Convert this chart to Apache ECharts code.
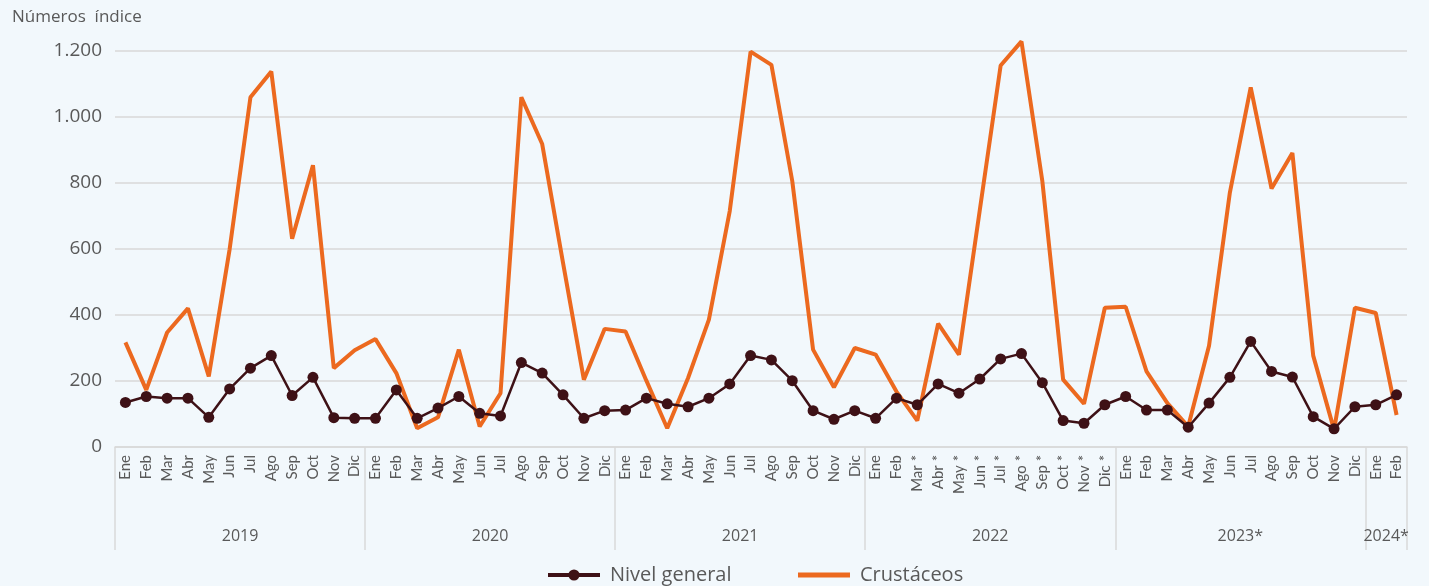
<!DOCTYPE html>
<html>
<head>
<meta charset="utf-8">
<script src="https://cdn.jsdelivr.net/npm/echarts@6/dist/echarts.min.js"></script>
<style>
  html, body { margin: 0; padding: 0; background: #F2F8FC; }
  #chart { width: 1429px; height: 586px; }
</style>
</head>
<body>
<div id="chart"></div>
<script>
// month labels (one per point)
const months = [
  "Ene","Feb","Mar","Abr","May","Jun","Jul","Ago","Sep","Oct","Nov","Dic",
  "Ene","Feb","Mar","Abr","May","Jun","Jul","Ago","Sep","Oct","Nov","Dic",
  "Ene","Feb","Mar","Abr","May","Jun","Jul","Ago","Sep","Oct","Nov","Dic",
  "Ene","Feb","Mar *","Abr *","May *","Jun *","Jul *","Ago *","Sep *","Oct *","Nov *","Dic *",
  "Ene","Feb","Mar","Abr","May","Jun","Jul","Ago","Sep","Oct","Nov","Dic",
  "Ene","Feb"
];
const years = ["2019", "2020", "2021", "2022", "2023*", "2024*"];
const monthsPerYear = [12, 12, 12, 12, 12, 2];

const nivelGeneral = [
  135, 153, 148, 148, 90, 176, 239, 277, 156, 211, 89, 87,
  87, 173, 87, 118, 153, 102, 94, 256, 224, 158, 87, 110,
  112, 148, 131, 122, 148, 191, 277, 264, 201, 110, 84, 110,
  87, 148, 128, 191, 163, 206, 267, 283, 195, 80, 72, 128,
  153, 112, 112, 60, 133, 211, 320, 229, 212, 92, 55, 122,
  128, 158
];
const crustaceos = [
  317, 173, 347, 420, 214, 599, 1060, 1138, 631, 854, 239, 293,
  327, 224, 57, 90, 295, 62, 163, 1060, 918, 558, 204, 358,
  350, 201, 57, 209, 386, 715, 1198, 1158, 806, 295, 181, 300,
  280, 168, 80, 374, 280, 718, 1156, 1229, 806, 204, 131, 422,
  425, 229, 133, 62, 307, 771, 1090, 783, 891, 277, 52, 422,
  406, 97
];

// year row: half-month slots so year centres and borders fall on points
const halfSlots = [];
const yearCentre = {};
const yearBorder = { 0: true };
let pos = 0;
years.forEach((y, i) => {
  yearCentre[pos + monthsPerYear[i]] = y;
  pos += monthsPerYear[i] * 2;
  yearBorder[pos] = true;
});
for (let k = 0; k <= pos; k++) halfSlots.push(yearCentre[k] || "");

const chart = echarts.init(document.getElementById("chart"));
const font = "'Open Sans', Lato, sans-serif";
const monthFont = "Lato, 'Open Sans', sans-serif";
const grey = "#595959";
const lineGrey = "#D9D9D9";

chart.setOption({
  backgroundColor: "#F2F8FC",
  textStyle: { fontFamily: font },
  title: {
    text: "Números  índice",
    left: 7,
    top: 4,
    textStyle: { fontSize: 17, fontWeight: "normal", color: grey, fontFamily: font }
  },
  legend: {
    left: 541,
    top: 560,
    itemWidth: 52,
    itemHeight: 14,
    itemGap: 64,
    textStyle: { fontSize: 20, color: grey, fontFamily: font, padding: [0, 0, 0, 5] },
    data: [
      { name: "Nivel general", lineStyle: { width: 4 } },
      { name: "Crustáceos", itemStyle: { opacity: 0 }, lineStyle: { width: 5 } }
    ]
  },
  grid: { left: 115, right: 22, top: 51, bottom: 139 },
  xAxis: [
    {
      type: "category",
      data: months,
      boundaryGap: true,
      axisLine: { lineStyle: { color: lineGrey, width: 1.5 } },
      axisTick: { show: false },
      axisLabel: { rotate: 90, interval: 0, margin: 8, fontSize: 15, color: grey, fontFamily: monthFont }
    },
    {
      type: "category",
      data: halfSlots,
      boundaryGap: false,
      position: "bottom",
      axisLine: { show: false },
      axisTick: {
        show: true,
        length: 103,
        interval: (i) => !!yearBorder[i],
        lineStyle: { color: lineGrey, width: 1.5 }
      },
      axisLabel: {
        interval: (i) => !!yearCentre[i],
        margin: 81,
        fontSize: 16,
        color: grey,
        fontFamily: font
      }
    }
  ],
  yAxis: {
    type: "value",
    min: 0,
    max: 1200,
    interval: 200,
    axisLine: { show: false },
    axisTick: { show: false },
    splitLine: { lineStyle: { color: lineGrey, width: 1.5 } },
    axisLabel: {
      fontSize: 19,
      color: grey,
      margin: 13,
      fontFamily: font,
      formatter: (v) => String(v).replace(/\B(?=(\d{3})+(?!\d))/g, ".")
    }
  },
  series: [
    {
      name: "Nivel general",
      type: "line",
      data: nivelGeneral,
      xAxisIndex: 0,
      z: 4,
      symbol: "circle",
      symbolSize: 11,
      itemStyle: { color: "#3E1116" },
      lineStyle: { color: "#3E1116", width: 2.5 },
      clip: false
    },
    {
      name: "Crustáceos",
      type: "line",
      data: crustaceos,
      xAxisIndex: 0,
      z: 3,
      symbol: "none",
      showSymbol: false,
      itemStyle: { color: "#EC691F" },
      lineStyle: { color: "#EC691F", width: 4 },
      clip: false
    }
  ],
  animation: false
});
</script>
</body>
</html>
